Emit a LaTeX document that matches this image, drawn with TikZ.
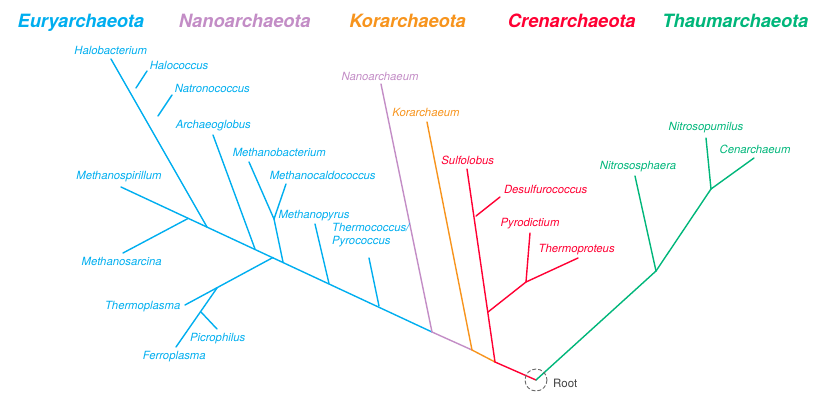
\documentclass[tikz,border=0pt]{standalone}
\usepackage{fontspec}
\setmainfont{TeX Gyre Heros}
\usepackage{tikz}
\usetikzlibrary{calc}

\definecolor{euryc}{HTML}{00AEEF}
\definecolor{nanoc}{HTML}{C38DC6}
\definecolor{korc}{HTML}{F7941D}
\definecolor{crenc}{HTML}{FF0033}
\definecolor{thaumc}{HTML}{00B67A}

\begin{document}
\begin{tikzpicture}[x=1pt,y=-1pt,line cap=round,
  branch/.style={line width=1.4pt},
  taxon/.style={font=\fontsize{11.3}{13}\selectfont\itshape,inner sep=0pt,text height=8pt,text depth=0pt},
  phylum/.style={font=\fontsize{18.3}{20}\selectfont\bfseries\itshape,inner sep=0pt,text height=13pt,text depth=0pt}]
\useasboundingbox (0,0) rectangle (815,405);

\node[phylum,text=euryc] (heury) at (80.8,21) {Euryarchaeota};
\node[phylum,text=nanoc] (hnano) at (244.7,21) {Nanoarchaeota};
\node[phylum,text=korc] (hkor) at (407.5,21) {Korarchaeota};
\node[phylum,text=crenc] (hcren) at (571.7,21) {Crenarchaeota};
\node[phylum,text=thaumc] (hthaum) at (735.3,21) {Thaumarchaeota};

\coordinate (root) at (536,380);
\coordinate (nRed) at (495,362);
\coordinate (nOra) at (472,350);
\coordinate (nPur) at (432,332);
\coordinate (nThc) at (379,306);
\coordinate (nMpy) at (329,283.5);
\coordinate (nMbc) at (283,262);
\coordinate (nTpl) at (273,257.5);
\coordinate (nArc) at (255,249);
\coordinate (nHal) at (207,227);
\coordinate (nMsa) at (188,218.5);
\coordinate (eMsp) at (121,187);
\coordinate (nTp2) at (217,288);
\coordinate (eTpl) at (185,305);
\coordinate (nPic) at (201,312);
\coordinate (eFer) at (176,347);
\coordinate (ePic) at (217,329);
\coordinate (eMsa) at (123,253);
\coordinate (nNat) at (158,116);
\coordinate (nHco) at (136,88);
\coordinate (eHba) at (111,59);
\coordinate (eNat) at (172,95);
\coordinate (eHco) at (147,71);
\coordinate (eArc) at (213,135);
\coordinate (nMcc) at (274,219);
\coordinate (eMbc) at (249,162);
\coordinate (eMcc) at (286,184);
\coordinate (eMpy) at (315,224);
\coordinate (eThc) at (369,258);
\coordinate (eNan) at (381,84);
\coordinate (eKor) at (427,122);
\coordinate (nPyr) at (488,312);
\coordinate (nDes) at (476,216);
\coordinate (eSul) at (467,169);
\coordinate (eDes) at (500,197);
\coordinate (nPyd) at (526,282);
\coordinate (ePyd) at (530,233);
\coordinate (eTpr) at (578,258);
\coordinate (nThm) at (656,271);
\coordinate (eNso) at (635,176);
\coordinate (nNpu) at (711,189);
\coordinate (eNpu) at (706,138);
\coordinate (eCen) at (754,158);

\begin{scope}[branch,draw=euryc]
\draw (nPur) -- (eMsp);
\draw (nTpl) -- (eTpl);
\draw (nTp2) -- (eFer);
\draw (nPic) -- (ePic);
\draw (nMsa) -- (eMsa);
\draw (nHal) -- (eHba);
\draw (nNat) -- (eNat);
\draw (nHco) -- (eHco);
\draw (nArc) -- (eArc);
\draw (nMbc) -- (nMcc) -- (eMbc);
\draw (nMcc) -- (eMcc);
\draw (nMpy) -- (eMpy);
\draw (nThc) -- (eThc);
\end{scope}

\draw[branch,draw=nanoc] (nOra) -- (nPur) -- (eNan);
\draw[branch,draw=korc] (nRed) -- (nOra) -- (eKor);
\draw[branch,draw=crenc] (root) -- (nRed) -- (eSul);
\draw[branch,draw=crenc] (nDes) -- (eDes);
\draw[branch,draw=crenc] (nPyr) -- (nPyd) -- (ePyd);
\draw[branch,draw=crenc] (nPyd) -- (eTpr);
\draw[branch,draw=thaumc] (root) -- (nThm) -- (eNso);
\draw[branch,draw=thaumc] (nThm) -- (nNpu) -- (eNpu);
\draw[branch,draw=thaumc] (nNpu) -- (eCen);

\draw[black!60,dash pattern=on 3.5pt off 2.5pt,line width=0.9pt] (root) circle (11);
\node[font=\fontsize{11.5}{13}\selectfont,text=black!75,anchor=west,inner sep=0pt,text height=8pt,text depth=0pt] (lroot) at (553,383) {Root};

\begin{scope}[every node/.style={taxon,text=euryc}]
\node (lHba) at (110.7,50) {Halobacterium};
\node (lHco) at (179,65) {Halococcus};
\node (lNat) at (212.3,88.3) {Natronococcus};
\node (lArc) at (213.3,124.3) {Archaeoglobus};
\node (lMbc) at (279.3,152.7) {Methanobacterium};
\node (lMcc) at (322.7,175.7) {Methanocaldococcus};
\node (lMpy) at (314,214.3) {Methanopyrus};
\node[align=left,anchor=west,text depth=2pt] (lThc) at (332,241.3) {Thermococcus/\\Pyrococcus};
\node (lMsp) at (119,175.7) {Methanospirillum};
\node (lMsa) at (121.7,261) {Methanosarcina};
\node (lTpl) at (142.7,305) {Thermoplasma};
\node (lPic) at (217.7,337.7) {Picrophilus};
\node (lFer) at (174.3,355.7) {Ferroplasma};
\end{scope}
\node[taxon,text=nanoc] (lNan) at (380,76) {Nanoarchaeum};
\node[taxon,text=korc] (lKor) at (426,112.7) {Korarchaeum};
\begin{scope}[every node/.style={taxon,text=crenc}]
\node (lSul) at (467.7,160) {Sulfolobus};
\node (lDes) at (545.7,189.3) {Desulfurococcus};
\node (lPyd) at (530,222.3) {Pyrodictium};
\node (lTpr) at (576.7,248.3) {Thermoproteus};
\end{scope}
\begin{scope}[every node/.style={taxon,text=thaumc}]
\node (lNso) at (638,165.7) {Nitrososphaera};
\node (lNpu) at (706,126.7) {Nitrosopumilus};
\node (lCen) at (755,149) {Cenarchaeum};
\end{scope}
\end{tikzpicture}
\end{document}
